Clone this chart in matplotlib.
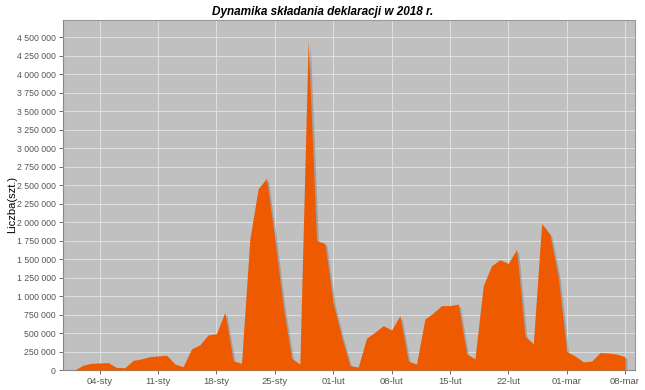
import numpy as np
import pandas as pd
import matplotlib
matplotlib.use("Agg")
import matplotlib.pyplot as plt
import matplotlib.ticker as mticker
import matplotlib.transforms as mtransforms

# dzienne liczby złożonych deklaracji, 01-sty .. 08-mar 2018
styczen = [0, 65000, 90000, 95000, 100000, 35000, 30000, 130000, 150000, 180000,
           190000, 200000, 80000, 45000, 285000, 340000, 475000, 490000, 780000, 125000,
           90000, 1770000, 2450000, 2590000, 1760000, 860000, 160000, 80000, 4460000, 1750000,
           1710000]
luty = [900000, 450000, 60000, 40000, 430000, 510000, 600000, 540000, 735000, 120000,
        80000, 690000, 770000, 870000, 870000, 890000, 220000, 150000, 1140000, 1410000,
        1490000, 1440000, 1630000, 460000, 350000, 1980000, 1830000, 1250000]
marzec = [250000, 190000, 110000, 120000, 235000, 230000, 215000, 180000]

wartosci = np.array(styczen + luty + marzec)
daty = pd.date_range("2018-01-01", periods=len(wartosci), freq="D")

tytul = "Dynamika składania deklaracji w 2018 r."
etykieta_y = "Liczba(szt.)"
miesiace = {1: "sty", 2: "lut", 3: "mar"}

plt.rcParams["font.family"] = ["Liberation Sans", "DejaVu Sans"]

fig = plt.figure(figsize=(6.45, 3.9), dpi=100)
ax = fig.add_axes([64 / 645, 20 / 390, 571 / 645, 350 / 390])
ax.set_facecolor("#c0c0c0")

# cień pod obszarem
cien = mtransforms.offset_copy(ax.transData, fig=fig, x=2, y=-2, units="dots")
ax.fill_between(daty, wartosci, 0, color="#8c8c8c", alpha=0.6, lw=0, transform=cien, zorder=2)
ax.fill_between(daty, wartosci, 0, color="#ee5a00", lw=0, zorder=3)

ax.set_ylim(0, 4730000)
ax.set_xlim(daty[0] - pd.Timedelta(hours=31), daty[0] + pd.Timedelta(hours=67.2 * 24))

ax.yaxis.set_major_locator(mticker.MultipleLocator(250000))
ax.yaxis.set_major_formatter(mticker.FuncFormatter(lambda v, p: f"{int(v):,}".replace(",", " ")))
tygodnie = pd.date_range("2018-01-04", "2018-03-08", freq="7D")
ax.set_xticks(tygodnie)
ax.set_xticklabels([f"{d.day:02d}-{miesiace[d.month]}" for d in tygodnie])

ax.grid(True, color="#e4e4e4", lw=0.6, zorder=1)
ax.set_axisbelow(True)
ax.tick_params(axis="y", labelsize=6.3, colors="#555555", length=3, width=0.6, pad=2)
ax.tick_params(axis="x", labelsize=6.8, colors="#555555", length=3, width=0.6, pad=2)
for s in ["top", "right"]:
    ax.spines[s].set_color("#999999")
for s in ["left", "bottom"]:
    ax.spines[s].set_color("#888888")
ax.spines["left"].set_position(("outward", 1))

fig.text(12 / 645, 1 - 204 / 390, etykieta_y, rotation=90, fontsize=8,
         ha="center", va="center")
fig.suptitle(tytul, x=0.5, y=0.985, fontsize=8.5, fontweight="bold", fontstyle="italic")

plt.savefig("out.png", dpi=100)
